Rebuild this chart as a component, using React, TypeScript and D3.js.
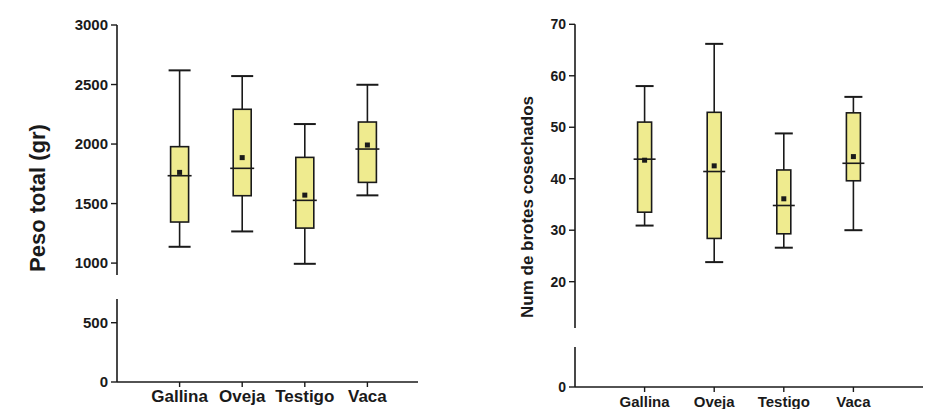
import React from 'react';
import * as d3 from 'd3';

// categories and box stats
const categories = ['Gallina', 'Oveja', 'Testigo', 'Vaca'];

// left: Peso total (gr)
const pesoMin = [1137, 1266, 994, 1569];
const pesoQ1 = [1345, 1566, 1294, 1678];
const pesoMedian = [1734, 1796, 1527, 1958];
const pesoQ3 = [1978, 2292, 1888, 2185];
const pesoMax = [2619, 2571, 2168, 2498];
const pesoMean = [1762, 1886, 1571, 1992];
const pesoUpperTicks = [1000, 1500, 2000, 2500, 3000];
const pesoLowerTicks = [0, 500];

// right: Num de brotes cosechados
const brotesMin = [30.9, 23.8, 26.6, 30.0];
const brotesQ1 = [33.5, 28.4, 29.3, 39.6];
const brotesMedian = [43.8, 41.4, 34.8, 43.0];
const brotesQ3 = [51.0, 52.9, 41.7, 52.8];
const brotesMax = [58.0, 66.2, 48.8, 55.9];
const brotesMean = [43.6, 42.5, 36.1, 44.3];
const brotesUpperTicks = [20, 30, 40, 50, 60, 70];
const brotesLowerTicks = [0];

const FILL = '#efeb8f';
const INK = '#1a1a1a';
const FONT = 'Liberation Sans, Arial, sans-serif';

type PanelProps = {
  axisX: number;
  axisEnd: number;
  xRange: [number, number];
  upper: d3.ScaleLinear<number, number>;
  lower: d3.ScaleLinear<number, number>;
  upperTicks: number[];
  lowerTicks: number[];
  mins: number[];
  q1: number[];
  med: number[];
  q3: number[];
  maxs: number[];
  means: number[];
  boxW: number;
  capW: number;
  medW: number;
  tickFont: number;
  label: string;
  labelX: number;
  labelY: number;
  labelFont: number;
  catFont: number;
};

function Panel(p: PanelProps) {
  const x = d3.scalePoint<string>().domain(categories).range(p.xRange).padding(1);
  const [uTop, uBot] = [p.upper.range()[1], p.upper.range()[0]];
  const [lTop, lBot] = [p.lower.range()[1], p.lower.range()[0]];
  const ticks = [...p.upperTicks.map((t) => [t, p.upper(t)]), ...p.lowerTicks.map((t) => [t, p.lower(t)])];
  return (
    <g>
      {/* broken y axis + x axis */}
      <line x1={p.axisX} x2={p.axisX} y1={uTop} y2={uBot} stroke={INK} strokeWidth={1.6} />
      <line x1={p.axisX} x2={p.axisX} y1={lTop} y2={lBot} stroke={INK} strokeWidth={1.6} />
      <line x1={p.axisX} x2={p.axisEnd} y1={lBot} y2={lBot} stroke={INK} strokeWidth={1.6} />
      {ticks.map(([t, y]) => (
        <g key={'t' + t}>
          <line x1={p.axisX - 6} x2={p.axisX} y1={y} y2={y} stroke={INK} strokeWidth={1.4} />
          <text x={p.axisX - 9} y={y} dy="0.35em" textAnchor="end" fontSize={p.tickFont}
            fontWeight="bold" fill={INK} fontFamily={FONT}>{t}</text>
        </g>
      ))}
      {categories.map((c) => (
        <g key={'c' + c}>
          <line x1={x(c)} x2={x(c)} y1={lBot} y2={lBot + 5} stroke={INK} strokeWidth={1.4} />
          <text x={x(c)} y={lBot + 20} textAnchor="middle" fontSize={p.catFont} fontWeight="bold"
            fill={INK} fontFamily={FONT}>{c}</text>
        </g>
      ))}
      {/* boxes */}
      {categories.map((c, i) => {
        const cx = x(c) as number;
        const yMin = p.upper(p.mins[i]);
        const yMax = p.upper(p.maxs[i]);
        const yQ1 = p.upper(p.q1[i]);
        const yQ3 = p.upper(p.q3[i]);
        const yMed = p.upper(p.med[i]);
        const yMean = p.upper(p.means[i]);
        return (
          <g key={'b' + c} stroke={INK} strokeWidth={1.6}>
            <line x1={cx} x2={cx} y1={yMax} y2={yQ3} />
            <line x1={cx} x2={cx} y1={yQ1} y2={yMin} />
            <line x1={cx - p.capW / 2} x2={cx + p.capW / 2} y1={yMax} y2={yMax} strokeWidth={2} />
            <line x1={cx - p.capW / 2} x2={cx + p.capW / 2} y1={yMin} y2={yMin} strokeWidth={2} />
            <rect x={cx - p.boxW / 2} y={yQ3} width={p.boxW} height={yQ1 - yQ3} fill={FILL} />
            <line x1={cx - p.medW / 2} x2={cx + p.medW / 2} y1={yMed} y2={yMed} />
            <rect x={cx - 2.5} y={yMean - 2.5} width={5} height={5} fill={INK} stroke="none" />
          </g>
        );
      })}
      <text transform={`translate(${p.labelX},${p.labelY}) rotate(-90)`} textAnchor="middle" dy="0.35em"
        fontSize={p.labelFont} fontWeight="bold" fill={INK} fontFamily={FONT}>
        {p.label}
      </text>
    </g>
  );
}

export default function App() {
  const pesoUpper = d3.scaleLinear().domain([900, 3000]).range([275, 25]);
  const pesoLower = d3.scaleLinear().domain([0, 700]).range([382, 299]);
  const brotesUpper = d3.scaleLinear().domain([11, 70]).range([328, 24.3]);
  const brotesLower = d3.scaleLinear().domain([0, 7.8]).range([387, 347]);

  return (
    <svg width={943} height={409} style={{ position: 'absolute', left: 0, top: 0, background: '#fff' }}>
      <rect width={943} height={409} fill="#fff" />
      <Panel axisX={117} axisEnd={418} xRange={[117, 430]} upper={pesoUpper} lower={pesoLower}
        upperTicks={pesoUpperTicks} lowerTicks={pesoLowerTicks}
        mins={pesoMin} q1={pesoQ1} med={pesoMedian} q3={pesoQ3} maxs={pesoMax} means={pesoMean}
        boxW={18} capW={22} medW={24} tickFont={15} label="Peso total (gr)" labelX={37} labelY={198}
        labelFont={22} catFont={17} />
      <Panel axisX={575} axisEnd={923} xRange={[575, 923]} upper={brotesUpper} lower={brotesLower}
        upperTicks={brotesUpperTicks} lowerTicks={brotesLowerTicks}
        mins={brotesMin} q1={brotesQ1} med={brotesMedian} q3={brotesQ3} maxs={brotesMax} means={brotesMean}
        boxW={14} capW={18} medW={22} tickFont={14} label="Num de brotes cosechados" labelX={527} labelY={207}
        labelFont={17} catFont={15} />
    </svg>
  );
}
